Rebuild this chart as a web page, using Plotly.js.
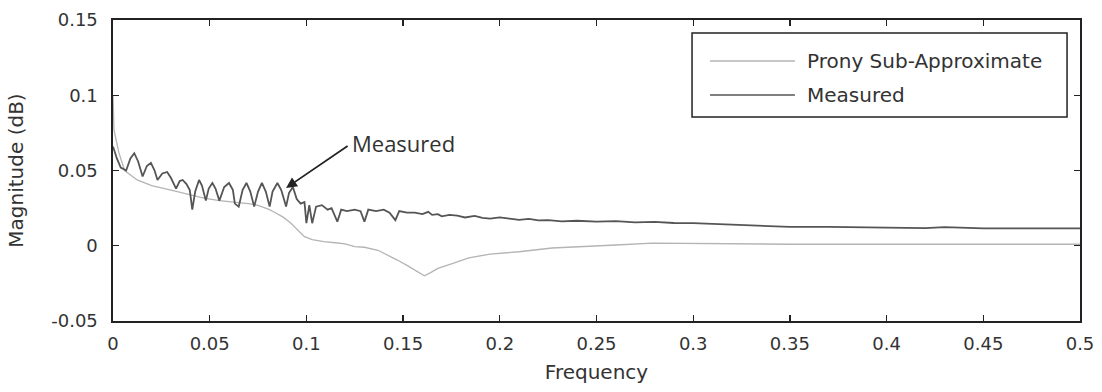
<!DOCTYPE html>
<html>
<head>
<meta charset="utf-8">
<script src="https://cdn.plot.ly/plotly-3.0.1.min.js"></script>
<style>html,body{margin:0;padding:0;background:#fff;}</style>
</head>
<body>
<div id="chart" style="width:1102px;height:392px;"></div>
<script>
const pronyFreq = [0, 0.0005, 0.003, 0.006, 0.0125, 0.02, 0.03, 0.04, 0.047, 0.055, 0.063, 0.07, 0.0745, 0.08, 0.083, 0.088, 0.092, 0.096, 0.099, 0.103, 0.109, 0.115, 0.12, 0.125, 0.13, 0.137, 0.142, 0.147, 0.152, 0.156, 0.161, 0.164, 0.168, 0.175, 0.184, 0.195, 0.21, 0.227, 0.245, 0.26, 0.279, 0.3, 0.35, 0.4, 0.45, 0.5];
const pronyMag = [0.1, 0.077, 0.062, 0.050, 0.0437, 0.040, 0.037, 0.034, 0.0317, 0.030, 0.029, 0.028, 0.027, 0.0245, 0.0226, 0.019, 0.015, 0.010, 0.006, 0.004, 0.0027, 0.002, 0.0013, -0.0006, -0.001, -0.003, -0.006, -0.0095, -0.013, -0.016, -0.020, -0.018, -0.015, -0.012, -0.008, -0.0055, -0.004, -0.0015, -0.0006, 0.0005, 0.0018, 0.0015, 0.001, 0.001, 0.001, 0.001];

const measFreq = [0, 0.002, 0.004, 0.0068, 0.009, 0.011, 0.013, 0.0153, 0.0175, 0.0196, 0.0215, 0.023, 0.0255, 0.028, 0.030, 0.0326, 0.0345, 0.036, 0.038, 0.0397, 0.041, 0.0425, 0.0445, 0.046, 0.048, 0.0495, 0.0514, 0.053, 0.055, 0.0575, 0.060, 0.062, 0.063, 0.065, 0.067, 0.069, 0.071, 0.073, 0.075, 0.077, 0.079, 0.081, 0.0825, 0.085, 0.087, 0.0895, 0.091, 0.093, 0.095, 0.097, 0.099, 0.100, 0.1015, 0.103, 0.105, 0.108, 0.111, 0.113, 0.116, 0.118, 0.121, 0.125, 0.128, 0.130, 0.132, 0.136, 0.14, 0.143, 0.146, 0.148, 0.152, 0.156, 0.16, 0.163, 0.165, 0.168, 0.17, 0.174, 0.178, 0.182, 0.187, 0.191, 0.195, 0.2, 0.205, 0.21, 0.215, 0.22, 0.225, 0.232, 0.24, 0.25, 0.26, 0.27, 0.28, 0.29, 0.30, 0.31, 0.32, 0.335, 0.35, 0.37, 0.385, 0.40, 0.42, 0.43, 0.45, 0.47, 0.50];
const measMag = [0.066, 0.058, 0.052, 0.050, 0.058, 0.0615, 0.056, 0.046, 0.053, 0.055, 0.050, 0.0437, 0.048, 0.049, 0.045, 0.038, 0.043, 0.0437, 0.041, 0.037, 0.024, 0.036, 0.0437, 0.040, 0.030, 0.038, 0.0417, 0.038, 0.030, 0.039, 0.0417, 0.037, 0.028, 0.026, 0.037, 0.0417, 0.036, 0.026, 0.036, 0.0417, 0.036, 0.026, 0.036, 0.0417, 0.037, 0.026, 0.035, 0.039, 0.031, 0.028, 0.029, 0.015, 0.027, 0.015, 0.026, 0.027, 0.024, 0.025, 0.016, 0.024, 0.023, 0.024, 0.023, 0.016, 0.024, 0.023, 0.024, 0.022, 0.017, 0.023, 0.022, 0.022, 0.021, 0.0225, 0.0205, 0.021, 0.0195, 0.0205, 0.020, 0.0188, 0.0198, 0.0185, 0.018, 0.0188, 0.018, 0.0172, 0.0178, 0.0168, 0.017, 0.0162, 0.0166, 0.016, 0.0163, 0.0155, 0.0158, 0.0151, 0.015, 0.0145, 0.0138, 0.0132, 0.0125, 0.0126, 0.0121, 0.012, 0.0117, 0.0124, 0.0116, 0.0115, 0.0115];

const xTickVals = [0, 0.05, 0.1, 0.15, 0.2, 0.25, 0.3, 0.35, 0.4, 0.45, 0.5];
const xTickText = ['0', '0.05', '0.1', '0.15', '0.2', '0.25', '0.3', '0.35', '0.4', '0.45', '0.5'];
const yTickVals = [-0.05, 0, 0.05, 0.1, 0.15];
const yTickText = ['-0.05', '0', '0.05', '0.1', '0.15'];
const seriesNames = ['Prony Sub-Approximate', 'Measured'];
const seriesColors = ['#b4b4b4', '#555555'];

const baseFont = 'DejaVu Sans, Arial, sans-serif';
const tickFont = {family: baseFont, size: 18, color: '#333'};

const traces = [
  {x: pronyFreq, y: pronyMag, type: 'scatter', mode: 'lines', name: seriesNames[0],
   line: {color: seriesColors[0], width: 1.3}, showlegend: false},
  {x: measFreq, y: measMag, type: 'scatter', mode: 'lines', name: seriesNames[1],
   line: {color: seriesColors[1], width: 1.8}, showlegend: false}
];

// legend box drawn in paper coordinates
const legX0 = 0.5988, legX1 = 0.9866, legY0 = 0.6777, legY1 = 0.9568;
const legRows = [0.8638, 0.7508];
const legLineX = [0.6174, 0.7052];
const legTextX = 0.7156;

const shapes = [
  {type: 'rect', xref: 'paper', yref: 'paper', x0: legX0, x1: legX1, y0: legY0, y1: legY1,
   line: {color: '#222', width: 1.5}, fillcolor: '#fff', layer: 'above'}
];
const annotations = [];
legRows.forEach((ry, i) => {
  shapes.push({type: 'line', xref: 'paper', yref: 'paper', x0: legLineX[0], x1: legLineX[1], y0: ry, y1: ry,
    line: {color: seriesColors[i], width: i === 0 ? 1.3 : 1.6}, layer: 'above'});
  annotations.push({xref: 'paper', yref: 'paper', x: legTextX, y: ry, text: seriesNames[i],
    showarrow: false, xanchor: 'left', yanchor: 'middle',
    font: {family: baseFont, size: 20, color: '#333'}});
});
annotations.push(
  {x: 0.0895, y: 0.0384, xref: 'x', yref: 'y', text: '', showarrow: true,
   arrowhead: 2, arrowsize: 1.2, arrowwidth: 1.8, arrowcolor: '#222', ax: 63, ay: -43},
  {x: 0.1225, y: 0.068, xref: 'x', yref: 'y', text: 'Measured', showarrow: false,
   xanchor: 'left', yanchor: 'middle',
   font: {family: 'Open Sans, Arial, sans-serif', size: 22, color: '#333'}}
);

const layout = {
  width: 1102, height: 392,
  margin: {l: 113, r: 22, t: 20, b: 71},
  paper_bgcolor: '#fff', plot_bgcolor: '#fff',
  showlegend: false,
  xaxis: {range: [0, 0.5], tickvals: xTickVals, ticktext: xTickText,
    ticks: 'inside', ticklen: 6, tickwidth: 1.3, tickcolor: '#222',
    showline: true, linecolor: '#222', linewidth: 1.6, mirror: 'ticks',
    showgrid: false, zeroline: false, tickfont: tickFont, ticklabelstandoff: 6,
    title: {text: 'Frequency', font: {family: baseFont, size: 20, color: '#333'}, standoff: 12}},
  yaxis: {range: [-0.05, 0.15], tickvals: yTickVals, ticktext: yTickText,
    ticks: 'inside', ticklen: 6, tickwidth: 1.3, tickcolor: '#222',
    showline: true, linecolor: '#222', linewidth: 1.6, mirror: 'ticks',
    showgrid: false, zeroline: false, tickfont: tickFont, ticklabelstandoff: 10,
    title: {text: 'Magnitude (dB)', font: {family: baseFont, size: 20, color: '#333'}, standoff: 22}},
  shapes: shapes,
  annotations: annotations
};

Plotly.newPlot('chart', traces, layout, {displayModeBar: false, staticPlot: true});
</script>
</body>
</html>
